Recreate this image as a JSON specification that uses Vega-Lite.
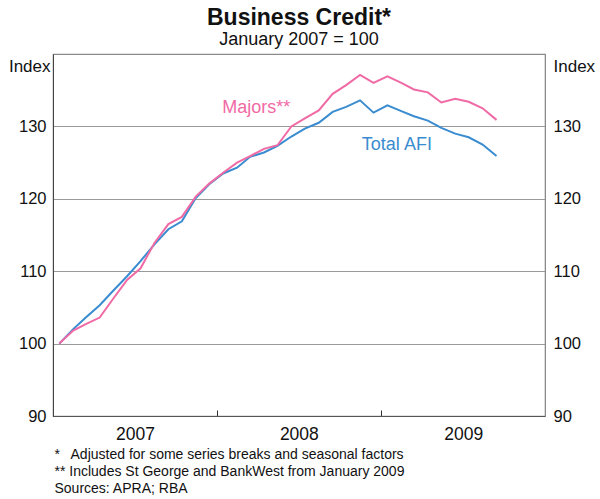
{
  "$schema": "https://vega.github.io/schema/vega-lite/v6.json",
  "width": 492,
  "height": 362,
  "autosize": {"type": "none"},
  "padding": {"left": 53, "top": 54, "right": 55, "bottom": 83},
  "background": "white",
  "config": {
    "font": "Liberation Sans",
    "view": {"stroke": "#8a8a8a", "strokeWidth": 1.2},
    "axis": {"labelFont": "Liberation Sans", "titleFont": "Liberation Sans", "labelColor": "#111", "titleColor": "#111"}
  },
  "title": {
    "text": "Business Credit*",
    "subtitle": "January 2007 = 100",
    "anchor": "middle",
    "frame": "group",
    "fontSize": 23,
    "fontWeight": "bold",
    "color": "#111",
    "subtitleFontSize": 18,
    "subtitleColor": "#111",
    "subtitlePadding": 1,
    "offset": 5
  },
  "datasets": {
    "credit": [
      {"date": "2007-01-15", "series": "Total AFI", "value": 100.0},
      {"date": "2007-02-15", "series": "Total AFI", "value": 102.0},
      {"date": "2007-03-15", "series": "Total AFI", "value": 103.6},
      {"date": "2007-04-15", "series": "Total AFI", "value": 105.3},
      {"date": "2007-05-15", "series": "Total AFI", "value": 107.3},
      {"date": "2007-06-15", "series": "Total AFI", "value": 109.3},
      {"date": "2007-07-15", "series": "Total AFI", "value": 111.4},
      {"date": "2007-08-15", "series": "Total AFI", "value": 113.7},
      {"date": "2007-09-15", "series": "Total AFI", "value": 115.8},
      {"date": "2007-10-15", "series": "Total AFI", "value": 116.9},
      {"date": "2007-11-15", "series": "Total AFI", "value": 120.1},
      {"date": "2007-12-15", "series": "Total AFI", "value": 122.0},
      {"date": "2008-01-15", "series": "Total AFI", "value": 123.5},
      {"date": "2008-02-15", "series": "Total AFI", "value": 124.3},
      {"date": "2008-03-15", "series": "Total AFI", "value": 125.8},
      {"date": "2008-04-15", "series": "Total AFI", "value": 126.4},
      {"date": "2008-05-15", "series": "Total AFI", "value": 127.3},
      {"date": "2008-06-15", "series": "Total AFI", "value": 128.6},
      {"date": "2008-07-15", "series": "Total AFI", "value": 129.7},
      {"date": "2008-08-15", "series": "Total AFI", "value": 130.5},
      {"date": "2008-09-15", "series": "Total AFI", "value": 132.0},
      {"date": "2008-10-15", "series": "Total AFI", "value": 132.7},
      {"date": "2008-11-15", "series": "Total AFI", "value": 133.6},
      {"date": "2008-12-15", "series": "Total AFI", "value": 131.9},
      {"date": "2009-01-15", "series": "Total AFI", "value": 132.9},
      {"date": "2009-02-15", "series": "Total AFI", "value": 132.1},
      {"date": "2009-03-15", "series": "Total AFI", "value": 131.4},
      {"date": "2009-04-15", "series": "Total AFI", "value": 130.8},
      {"date": "2009-05-15", "series": "Total AFI", "value": 129.8},
      {"date": "2009-06-15", "series": "Total AFI", "value": 129.0},
      {"date": "2009-07-15", "series": "Total AFI", "value": 128.5},
      {"date": "2009-08-15", "series": "Total AFI", "value": 127.5},
      {"date": "2009-09-15", "series": "Total AFI", "value": 125.9},
      {"date": "2007-01-15", "series": "Majors**", "value": 100.0},
      {"date": "2007-02-15", "series": "Majors**", "value": 101.8},
      {"date": "2007-03-15", "series": "Majors**", "value": 102.7},
      {"date": "2007-04-15", "series": "Majors**", "value": 103.6},
      {"date": "2007-05-15", "series": "Majors**", "value": 106.2},
      {"date": "2007-06-15", "series": "Majors**", "value": 108.8},
      {"date": "2007-07-15", "series": "Majors**", "value": 110.4},
      {"date": "2007-08-15", "series": "Majors**", "value": 113.9},
      {"date": "2007-09-15", "series": "Majors**", "value": 116.5},
      {"date": "2007-10-15", "series": "Majors**", "value": 117.5},
      {"date": "2007-11-15", "series": "Majors**", "value": 120.3},
      {"date": "2007-12-15", "series": "Majors**", "value": 122.1},
      {"date": "2008-01-15", "series": "Majors**", "value": 123.6},
      {"date": "2008-02-15", "series": "Majors**", "value": 125.0},
      {"date": "2008-03-15", "series": "Majors**", "value": 125.9},
      {"date": "2008-04-15", "series": "Majors**", "value": 126.9},
      {"date": "2008-05-15", "series": "Majors**", "value": 127.4},
      {"date": "2008-06-15", "series": "Majors**", "value": 130.0},
      {"date": "2008-07-15", "series": "Majors**", "value": 131.1},
      {"date": "2008-08-15", "series": "Majors**", "value": 132.2},
      {"date": "2008-09-15", "series": "Majors**", "value": 134.5},
      {"date": "2008-10-15", "series": "Majors**", "value": 135.7},
      {"date": "2008-11-15", "series": "Majors**", "value": 137.1},
      {"date": "2008-12-15", "series": "Majors**", "value": 136.0},
      {"date": "2009-01-15", "series": "Majors**", "value": 136.9},
      {"date": "2009-02-15", "series": "Majors**", "value": 136.0},
      {"date": "2009-03-15", "series": "Majors**", "value": 135.1},
      {"date": "2009-04-15", "series": "Majors**", "value": 134.7},
      {"date": "2009-05-15", "series": "Majors**", "value": 133.3},
      {"date": "2009-06-15", "series": "Majors**", "value": 133.8},
      {"date": "2009-07-15", "series": "Majors**", "value": 133.4},
      {"date": "2009-08-15", "series": "Majors**", "value": 132.5},
      {"date": "2009-09-15", "series": "Majors**", "value": 130.9}
    ],
    "labels": [
      {"date": "2008-03-29", "series": "Majors**", "value": 132.6},
      {"date": "2009-02-05", "series": "Total AFI", "value": 127.4}
    ]
  },
  "layer": [
    {
      "data": {"name": "credit"},
      "mark": {"type": "line", "strokeWidth": 2},
      "encoding": {
        "x": {
          "field": "date", "type": "temporal",
          "scale": {"domain": [{"year": 2007, "month": 1, "date": 1}, {"year": 2010, "month": 1, "date": 1}]},
          "axis": {
            "values": [{"year": 2007, "month": 1, "date": 1}, {"year": 2008, "month": 1, "date": 1}, {"year": 2009, "month": 1, "date": 1}],
            "format": "%Y",
            "labelOffset": 82,
            "labelFontSize": 17.5,
            "labelPadding": 15,
            "tickSize": -6,
            "tickColor": "#333",
            "domainColor": "#555",
            "grid": false,
            "labelFlush": false,
            "title": ["*\u00a0\u00a0\u2009Adjusted for some series breaks and seasonal factors", "**\u00a0Includes St George and BankWest from January 2009", "Sources: APRA; RBA"],
            "titleFontSize": 14,
            "titleFontWeight": "normal",
            "titleAnchor": "start",
            "titleAlign": "left",
            "titleBaseline": "top",
            "titleX": 1,
            "titleY": 31,
            "titleLineHeight": 17
          }
        },
        "y": {
          "field": "value", "type": "quantitative",
          "scale": {"domain": [90, 140], "nice": false, "zero": false},
          "axis": {
            "orient": "left",
            "values": [90, 100, 110, 120, 130],
            "ticks": false,
            "labelFontSize": 16.5,
            "labelPadding": 7,
            "domainColor": "#444",
            "gridColor": "#999",
            "gridWidth": 1.2,
            "title": "Index",
            "titleFontSize": 17,
            "titleFontWeight": "normal",
            "titleAngle": 0,
            "titleAlign": "right",
            "titleBaseline": "alphabetic",
            "titleX": -3,
            "titleY": 17
          }
        },
        "color": {
          "field": "series", "type": "nominal",
          "scale": {"domain": ["Majors**", "Total AFI"], "range": ["#f06aa5", "#3a8cd0"]},
          "legend": null
        }
      }
    },
    {
      "data": {"name": "labels"},
      "mark": {"type": "text", "fontSize": 18, "align": "center", "baseline": "middle"},
      "encoding": {
        "x": {"field": "date", "type": "temporal"},
        "y": {
          "field": "value", "type": "quantitative",
          "axis": {
            "orient": "right",
            "values": [90, 100, 110, 120, 130],
            "ticks": false,
            "grid": false,
            "labelFontSize": 16.5,
            "labelPadding": 8,
            "domainColor": "#8a8a8a",
            "title": "Index",
            "titleFontSize": 17,
            "titleFontWeight": "normal",
            "titleAngle": 0,
            "titleAlign": "left",
            "titleBaseline": "alphabetic",
            "titleX": 8,
            "titleY": 17
          }
        },
        "text": {"field": "series"},
        "color": {"field": "series", "type": "nominal", "legend": null}
      }
    }
  ],
  "resolve": {"axis": {"y": "independent"}}
}
